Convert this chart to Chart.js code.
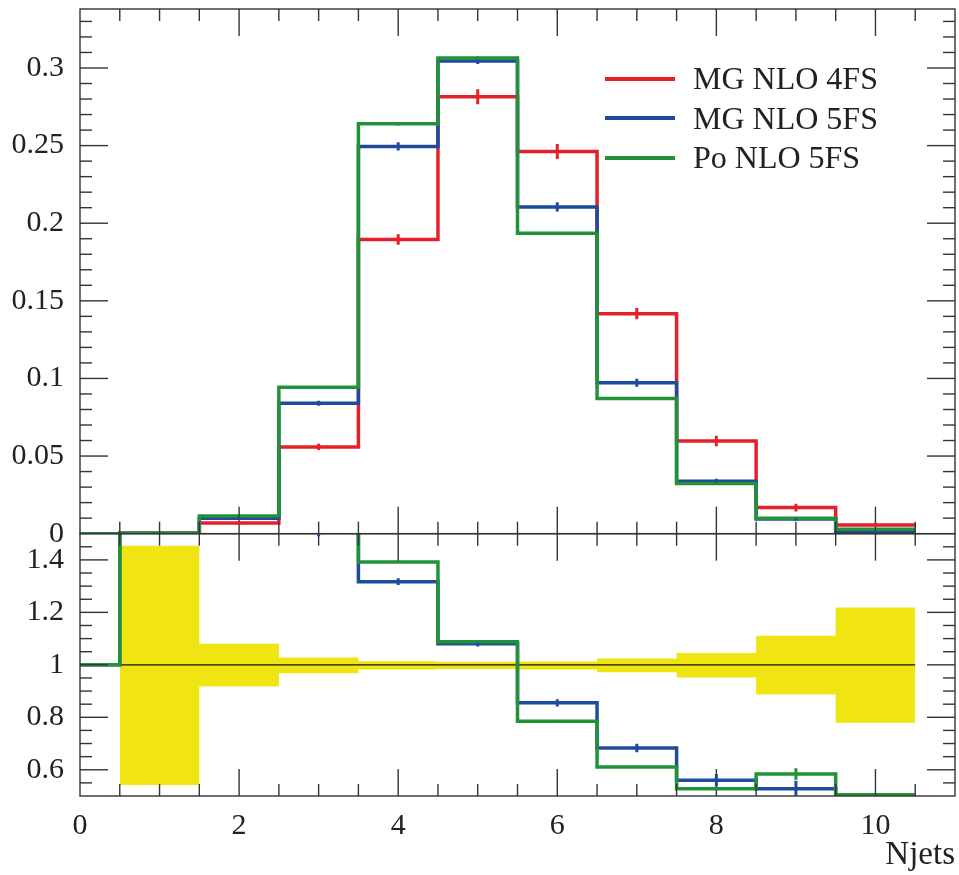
<!DOCTYPE html>
<html>
<head>
<meta charset="utf-8">
<script src="https://cdn.jsdelivr.net/npm/chart.js@4.4.1/dist/chart.umd.min.js"></script>
<style>
  html, body { margin: 0; padding: 0; background: #fff; }
  #wrap { position: relative; width: 959px; height: 875px; }
  #legend { position: absolute; left: 605px; top: 59px; font-family: "Liberation Serif", serif; font-size: 32px; color: #222; }
  .row { display: flex; align-items: center; height: 39.5px; white-space: nowrap; }
  .swatch { width: 70px; height: 4px; margin-right: 18px; }
</style>
</head>
<body>
<div id="wrap">
  <canvas id="njets" width="959" height="875"></canvas>
  <div id="legend"></div>
</div>
<script>
// Njets: bin centres
const categories = [0, 1, 2, 3, 4, 5, 6, 7, 8, 9, 10];

// normalised distributions
const mg4fs = [0, 0.0003, 0.0068, 0.0559, 0.1895, 0.2815, 0.2462, 0.1417, 0.0597, 0.0168, 0.0056];
const mg5fs = [0, 0.0003, 0.0099, 0.0840, 0.2495, 0.3045, 0.2105, 0.0972, 0.0338, 0.0095, 0.0010];
const po5fs = [0, 0.0003, 0.0114, 0.0944, 0.2640, 0.3065, 0.1935, 0.0871, 0.0323, 0.0099, 0.0028];

const mg4fsErr = [0, 0, 0.001, 0.002, 0.0034, 0.0048, 0.0048, 0.0036, 0.0034, 0.0025, 0.0015];
const mg5fsErr = [0, 0, 0.0008, 0.0016, 0.0027, 0.002, 0.003, 0.0026, 0.0015, 0.001, 0.0005];
const po5fsErr = [0, 0, 0, 0.0008, 0.001, 0.001, 0.0008, 0.0006, 0.0005, 0.0004, 0];

// ratio to MG NLO 4FS
const ratioRef   = [1, 1, 1, 1, 1, 1, 1, 1, 1, 1, 1];
const ratioMg5fs = [1, 2.0, 1.6, 1.51, 1.317, 1.080, 0.855, 0.683, 0.560, 0.528, 0.2];
const ratioPo5fs = [1, 2.0, 1.7, 1.69, 1.392, 1.088, 0.785, 0.611, 0.528, 0.584, 0.505];
const ratioMg5fsErr = [0, 0, 0, 0.02, 0.013, 0.01, 0.014, 0.016, 0.024, 0.03, 0];
const ratioPo5fsErr = [0, 0, 0, 0, 0.004, 0.004, 0.004, 0.004, 0.006, 0.022, 0];

// MG NLO 4FS uncertainty band
const bandUp   = [null, 1.454, 1.080, 1.028, 1.014, 1.012, 1.013, 1.024, 1.045, 1.111, 1.219];
const bandDown = [null, 0.542, 0.917, 0.968, 0.982, 0.984, 0.982, 0.972, 0.952, 0.887, 0.779];

// axes
const xTicks = [0, 2, 4, 6, 8, 10];
const topTicks = [0, 0.05, 0.1, 0.15, 0.2, 0.25, 0.3];
const topTickLabels = ['0', '0.05', '0.1', '0.15', '0.2', '0.25', '0.3'];
const ratioTicks = [0.6, 0.8, 1, 1.2, 1.4];
const ratioTickLabels = ['0.6', '0.8', '1', '1.2', '1.4'];

const RED = '#e62028', BLUE = '#1f4b9c', GREEN = '#229239', YELLOW = '#f0e512';
const TEXT = '#222';
const FONT = { family: '"Liberation Serif", serif', size: 30 };

// step histogram: one point per left bin edge, plus the last right edge
function histo(vals) {
  const pts = [];
  let last = null;
  vals.forEach((v, i) => {
    if (v === null) return;
    pts.push({ x: categories[i] - 0.5, y: v });
    last = i;
  });
  pts.push({ x: categories[last] + 0.5, y: vals[last] });
  return pts;
}

function step(label, vals, color, axis, order, errs, width) {
  return {
    label, data: histo(vals), values: vals, errors: errs,
    yAxisID: axis, borderColor: color, backgroundColor: color,
    borderWidth: width || 3.5, stepped: true, pointRadius: 0,
    fill: false, order, borderJoinStyle: 'miter', borderCapStyle: 'butt'
  };
}

const datasets = [
  step('MG NLO 4FS', mg4fs, RED, 'y', 3, mg4fsErr),
  step('MG NLO 5FS', mg5fs, BLUE, 'y', 2, mg5fsErr),
  step('Po NLO 5FS', po5fs, GREEN, 'y', 1, po5fsErr),
  step('ref', ratioRef, '#111', 'yr', 4, null, 1.2),
  step('MG NLO 5FS', ratioMg5fs, BLUE, 'yr', 2, ratioMg5fsErr),
  step('Po NLO 5FS', ratioPo5fs, GREEN, 'yr', 1, ratioPo5fsErr),
  { label: 'band', data: histo(bandUp), yAxisID: 'yr', stepped: true, pointRadius: 0,
    borderWidth: 0, borderColor: 'rgba(0,0,0,0)', backgroundColor: YELLOW, fill: '+1', order: 10 },
  { label: 'band', data: histo(bandDown), yAxisID: 'yr', stepped: true, pointRadius: 0,
    borderWidth: 0, borderColor: 'rgba(0,0,0,0)', fill: false, order: 10 }
];

// vertical error bars at the bin centres
const errorBars = {
  id: 'errorBars',
  afterDatasetsDraw(chart) {
    const ctx = chart.ctx;
    chart.data.datasets.forEach((ds, i) => {
      if (!ds.errors) return;
      const meta = chart.getDatasetMeta(i);
      const xs = meta.xScale, ys = meta.yScale;
      ctx.save();
      ctx.beginPath();
      ctx.rect(xs.left, ys.top, xs.right - xs.left, ys.bottom - ys.top);
      ctx.clip();
      ctx.strokeStyle = ds.borderColor;
      ctx.lineWidth = 3;
      ds.errors.forEach((e, k) => {
        if (!e) return;
        const px = xs.getPixelForValue(categories[k]);
        ctx.beginPath();
        ctx.moveTo(px, ys.getPixelForValue(ds.values[k] - e));
        ctx.lineTo(px, ys.getPixelForValue(ds.values[k] + e));
        ctx.stroke();
      });
      ctx.restore();
    });
  }
};

// panel frames with inward ticks on every side
const frame = {
  id: 'frame',
  afterDatasetsDraw(chart) {
    const ctx = chart.ctx;
    const { x, y, yr } = chart.scales;
    const seg = (x1, y1, x2, y2) => { ctx.beginPath(); ctx.moveTo(x1, y1); ctx.lineTo(x2, y2); ctx.stroke(); };
    ctx.save();
    ctx.strokeStyle = '#333';
    ctx.lineWidth = 1.4;
    [y, yr].forEach(s => ctx.strokeRect(x.left, s.top, x.right - x.left, s.bottom - s.top));
    for (let k = 1; k < 22; k++) {
      const px = x.getPixelForValue(k / 2);
      const len = k % 4 === 0 ? 27 : 12;
      [y, yr].forEach(s => { seg(px, s.top, px, s.top + len); seg(px, s.bottom, px, s.bottom - len); });
    }
    for (let k = 1; k < 34; k++) {
      const py = y.getPixelForValue(k / 100);
      const len = k % 5 === 0 ? 28 : 12;
      seg(x.left, py, x.left + len, py);
      seg(x.right, py, x.right - len, py);
    }
    for (let k = 11; k < 30; k++) {
      const py = yr.getPixelForValue(k * 0.05);
      const len = k % 4 === 0 ? 28 : 12;
      seg(x.left, py, x.left + len, py);
      seg(x.right, py, x.right - len, py);
    }
    ctx.restore();
  }
};

// fixed axis sizes; labels may overhang the plot edges
const yCommon = {
  type: 'linear', position: 'left', stack: 'panels',
  grid: { display: false, drawTicks: false }, border: { display: false },
  afterFit: s => { s.width = 80; s.paddingTop = 0; s.paddingBottom = 0; }
};

new Chart(document.getElementById('njets'), {
  type: 'line',
  data: { datasets },
  options: {
    responsive: false,
    devicePixelRatio: 1,
    animation: false,
    layout: { padding: { top: 9, right: 4, left: 0, bottom: 0 } },
    plugins: { legend: { display: false }, tooltip: { enabled: false } },
    scales: {
      x: {
        type: 'linear', min: 0, max: 11, position: 'bottom',
        grid: { display: false, drawTicks: false }, border: { display: false },
        afterBuildTicks: s => { s.ticks = xTicks.map(v => ({ value: v })); },
        afterFit: s => { s.height = 79; s.paddingLeft = 0; s.paddingRight = 0; },
        ticks: { font: FONT, color: TEXT, padding: 12, maxRotation: 0, autoSkip: false,
                 callback: v => String(v) },
        title: { display: true, text: 'Njets', align: 'end', font: { family: FONT.family, size: 33 },
                 color: TEXT, padding: { top: 0, bottom: 0 } }
      },
      yr: Object.assign({}, yCommon, {
        min: 0.5, max: 1.5, stackWeight: 1,
        afterBuildTicks: s => { s.ticks = ratioTicks.map(v => ({ value: v })); },
        ticks: { font: FONT, color: TEXT, padding: 16, autoSkip: false,
                 callback: (v, i) => ratioTickLabels[i] }
      }),
      y: Object.assign({}, yCommon, {
        min: 0, max: 0.338, stackWeight: 2,
        afterBuildTicks: s => { s.ticks = topTicks.map(v => ({ value: v })); },
        ticks: { font: FONT, color: TEXT, padding: 16, autoSkip: false,
                 callback: (v, i) => topTickLabels[i] }
      })
    }
  },
  plugins: [frame, errorBars]
});

// legend inside the upper panel
const legendEl = document.getElementById('legend');
datasets.slice(0, 3).forEach(ds => {
  const row = document.createElement('div');
  row.className = 'row';
  const sw = document.createElement('span');
  sw.className = 'swatch';
  sw.style.background = ds.borderColor;
  const txt = document.createElement('span');
  txt.textContent = ds.label;
  row.appendChild(sw);
  row.appendChild(txt);
  legendEl.appendChild(row);
});
</script>
</body>
</html>
